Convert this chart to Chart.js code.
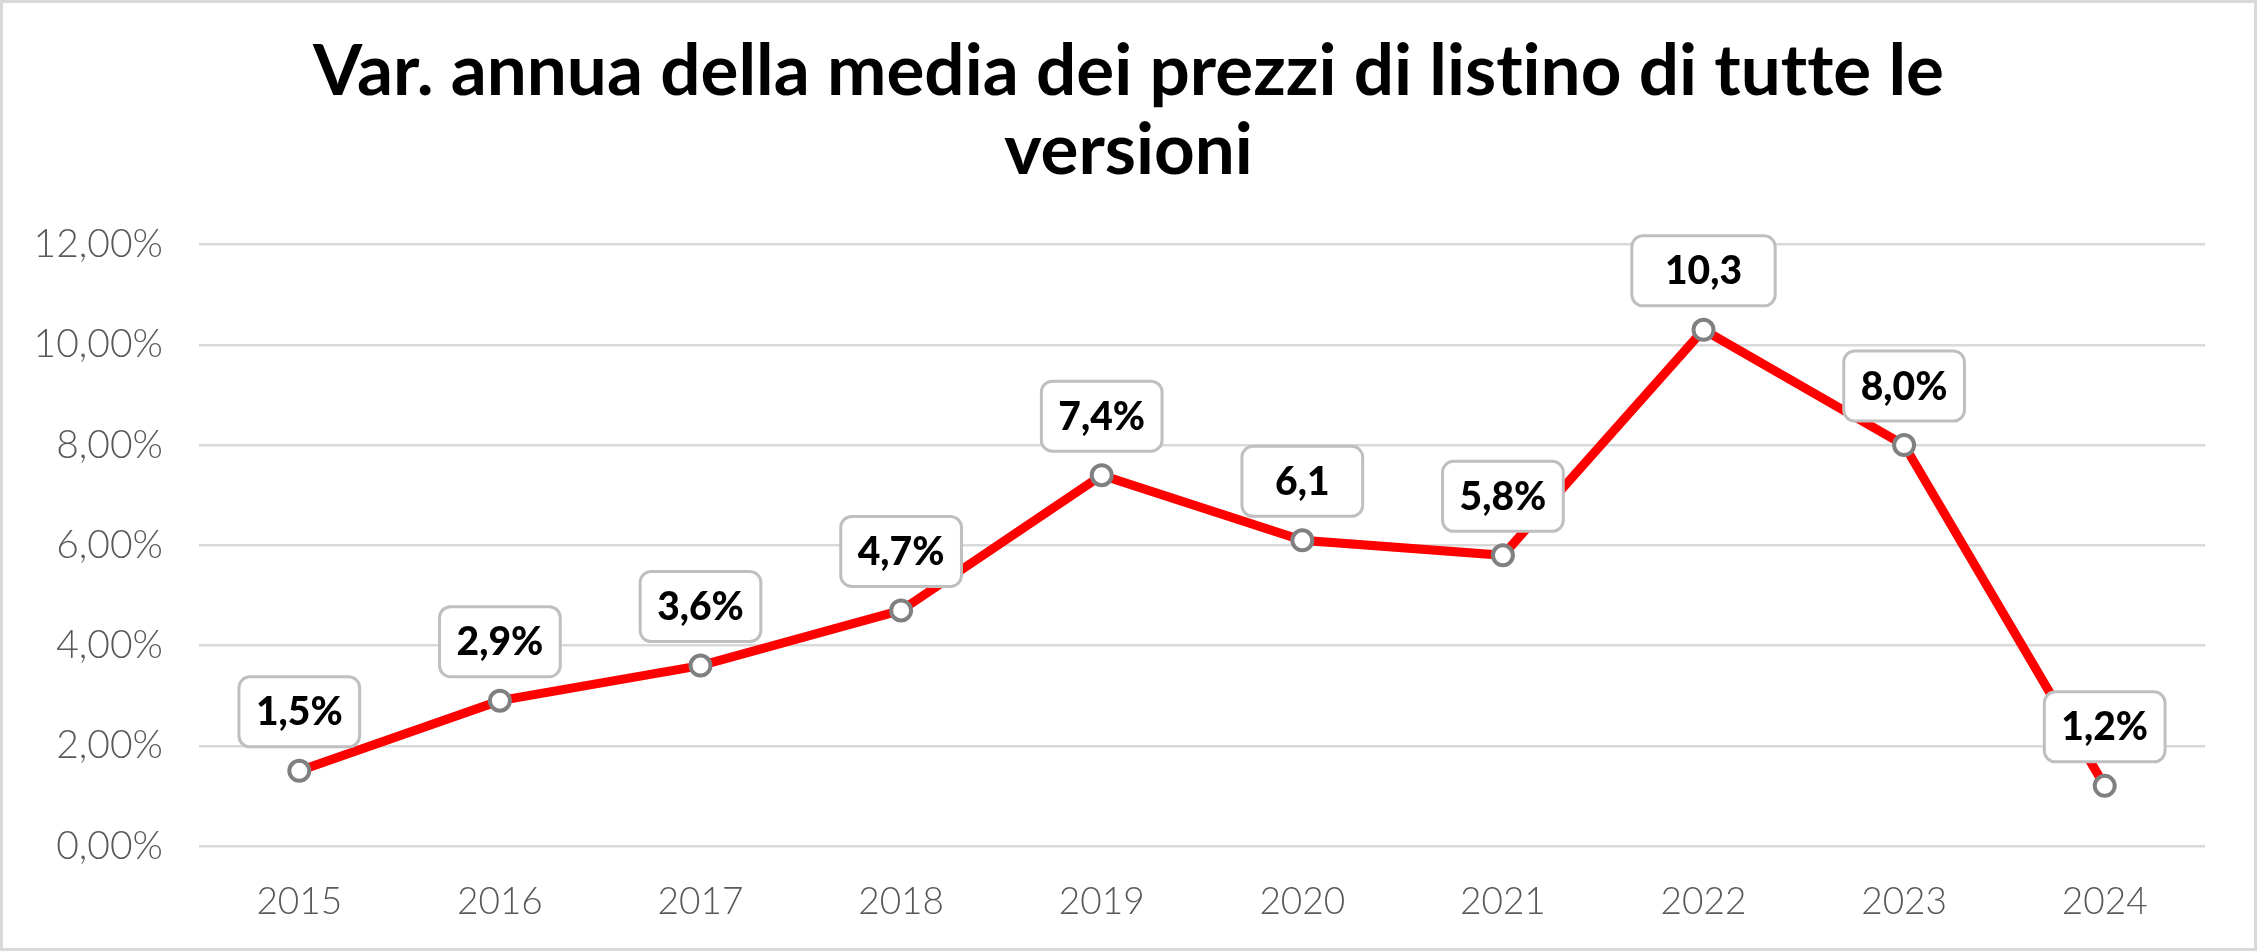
<!DOCTYPE html>
<html>
<head>
<meta charset="utf-8">
<script src="https://cdn.jsdelivr.net/npm/chart.js@4.4.1/dist/chart.umd.min.js"></script>
<style>
  html, body { margin: 0; padding: 0; background: #fff; }
  canvas { display: block; font-variant-ligatures: none; }
</style>
</head>
<body>
<canvas id="c" width="2257" height="951"></canvas>
<script>
const titleLines = ['Var. annua della media dei prezzi di listino di tutte le', 'versioni'];
const categories = ['2015', '2016', '2017', '2018', '2019', '2020', '2021', '2022', '2023', '2024'];
const values = [1.5, 2.9, 3.6, 4.7, 7.4, 6.1, 5.8, 10.3, 8.0, 1.2];
const pointLabels = ['1,5%', '2,9%', '3,6%', '4,7%', '7,4%', '6,1', '5,8%', '10,3', '8,0%', '1,2%'];
const yMin = 0, yMax = 12, yStep = 2;

const FONT = 'Lato';

const bgPlugin = {
  id: 'bg',
  beforeDraw(chart) {
    const ctx = chart.ctx;
    ctx.save();
    ctx.fillStyle = '#ffffff';
    ctx.fillRect(0, 0, chart.width, chart.height);
    ctx.strokeStyle = '#d9d9d9';
    ctx.lineWidth = 3;
    ctx.strokeRect(1.5, 1.5, chart.width - 3, chart.height - 3);
    ctx.restore();
    try { ctx.textRendering = 'optimizeSpeed'; } catch (e) {}
  }
};

function rrect(ctx, x, y, w, h, r) {
  ctx.beginPath();
  ctx.moveTo(x + r, y);
  ctx.lineTo(x + w - r, y);
  ctx.arcTo(x + w, y, x + w, y + r, r);
  ctx.lineTo(x + w, y + h - r);
  ctx.arcTo(x + w, y + h, x + w - r, y + h, r);
  ctx.lineTo(x + r, y + h);
  ctx.arcTo(x, y + h, x, y + h - r, r);
  ctx.lineTo(x, y + r);
  ctx.arcTo(x, y, x + r, y, r);
  ctx.closePath();
}

const labelPlugin = {
  id: 'boxLabels',
  afterDatasetsDraw(chart) {
    const ctx = chart.ctx;
    const meta = chart.getDatasetMeta(0);
    ctx.save();
    ctx.font = '900 39px ' + FONT;
    meta.data.forEach((pt, i) => {
      const txt = pointLabels[i];
      const sizing = values[i].toFixed(1).replace('.', ',') + '%';
      const w = Math.max(ctx.measureText(sizing).width, ctx.measureText(txt).width) + 34;
      const h = 70;
      const x = pt.x - w / 2;
      const y = pt.y - 24 - h;
      rrect(ctx, x, y, w, h, 11);
      ctx.fillStyle = '#ffffff';
      ctx.fill();
      ctx.strokeStyle = '#bfbfbf';
      ctx.lineWidth = 3;
      ctx.stroke();
      ctx.fillStyle = '#000000';
      ctx.textAlign = 'center';
      ctx.textBaseline = 'middle';
      ctx.fillText(txt, pt.x, y + h / 2 + 1);
    });
    ctx.restore();
  }
};

new Chart(document.getElementById('c'), {
  type: 'line',
  data: {
    labels: categories,
    datasets: [{
      data: values,
      borderColor: '#ff0000',
      borderWidth: 9,
      pointRadius: 10,
      pointBorderWidth: 4,
      pointBackgroundColor: '#ffffff',
      pointBorderColor: '#808080',
      tension: 0,
      clip: false
    }]
  },
  options: {
    responsive: false,
    devicePixelRatio: 1,
    animation: false,
    layout: { padding: { left: 0, right: 0, top: 0, bottom: 0 } },
    plugins: {
      legend: { display: false },
      tooltip: { enabled: false },
      title: {
        display: true,
        text: titleLines,
        color: '#000000',
        font: { family: FONT, size: 71, weight: 'bold', lineHeight: 1.11 },
        padding: { top: 33, bottom: 54 }
      }
    },
    scales: {
      x: {
        offset: true,
        grid: { display: false, drawTicks: false },
        border: { display: false },
        ticks: {
          color: '#595959',
          font: { family: FONT, size: 37, weight: '300' },
          padding: 34,
          maxRotation: 0
        },
        afterFit(scale) { scale.height = 105; }
      },
      y: {
        min: yMin,
        max: yMax,
        grid: { color: '#d9d9d9', lineWidth: 2.5, drawTicks: false },
        border: { display: false },
        ticks: {
          stepSize: yStep,
          color: '#595959',
          font: { family: FONT, size: 39, weight: '300' },
          padding: 36,
          callback: (v) => v.toFixed(2).replace('.', ',') + '%'
        },
        afterFit(scale) { scale.width = 199; }
      },
      yRight: {
        position: 'right',
        display: true,
        grid: { display: false, drawTicks: false },
        border: { display: false },
        ticks: { display: false },
        afterFit(scale) { scale.width = 52; }
      }
    }
  },
  plugins: [bgPlugin, labelPlugin]
});
</script>
</body>
</html>
